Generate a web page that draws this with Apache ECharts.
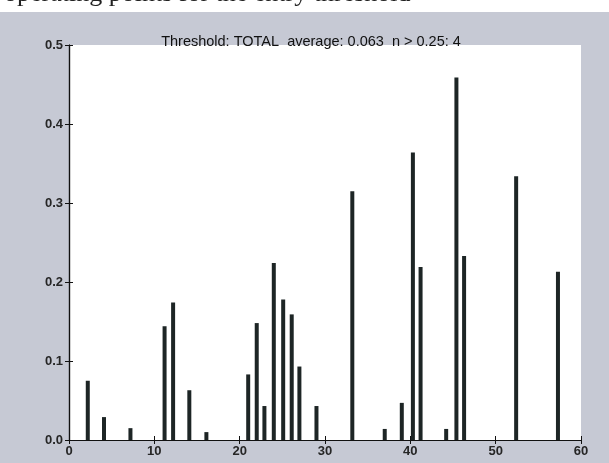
<!DOCTYPE html>
<html>
<head>
<meta charset="utf-8">
<script src="https://cdn.jsdelivr.net/npm/echarts@6/dist/echarts.min.js"></script>
<style>
  html, body { margin: 0; padding: 0; background: #c6c9d4; }
  #chart { width: 609px; height: 463px; }
</style>
</head>
<body>
<div id="chart"></div>
<script>
// bar positions (x) and heights
const positions = [2.2, 4.1, 7.2, 11.2, 12.2, 14.1, 16.1, 21, 22, 22.9, 24, 25.1, 26.1, 27, 29, 33.2, 37, 39, 40.3, 41.2, 44.2, 45.4, 46.3, 52.4, 57.3];
const values = [0.075, 0.029, 0.015, 0.144, 0.174, 0.063, 0.010, 0.083, 0.148, 0.043, 0.224, 0.178, 0.159, 0.093, 0.043, 0.315, 0.014, 0.047, 0.364, 0.219, 0.014, 0.459, 0.233, 0.334, 0.213];
const titleText = "Threshold: TOTAL  average: 0.063  n > 0.25: 4";

const chart = echarts.init(document.getElementById("chart"));

const tickFont = { fontFamily: "Liberation Sans, Arial, sans-serif", fontSize: 13, fontWeight: "bold", color: "#262626" };
const axisLine = { show: true, lineStyle: { color: "#111", width: 1.2 } };
const axisTick = { show: true, inside: true, length: 4, lineStyle: { color: "#111" } };

chart.setOption({
  backgroundColor: "#c6c9d4",
  animation: false,
  graphic: [
    { type: "rect", left: 0, top: 0, shape: { width: 609, height: 12 }, style: { fill: "#ffffff" } },
    {
      // caption line of the scanned page, cut off by the crop
      type: "text", left: 4, top: -19,
      style: { text: "operating points for the entry threshold", font: "26px 'Liberation Serif', serif", fill: "#222" }
    }
  ],
  title: {
    text: titleText,
    left: 306, top: 29, textAlign: "center",
    textStyle: { fontFamily: "Liberation Sans, Arial, sans-serif", fontSize: 14.5, fontWeight: "normal", color: "#111" }
  },
  grid: { left: 69, right: 28, top: 45, bottom: 23, backgroundColor: "#ffffff", show: true, borderWidth: 0 },
  xAxis: [
    {
      type: "value", min: 0, max: 60, interval: 10, position: "bottom",
      axisLine, axisTick, splitLine: { show: false },
      axisLabel: Object.assign({ margin: 5 }, tickFont)
    },
    {
      type: "value", min: 0, max: 60, interval: 10, position: "top",
      axisLine, axisTick, splitLine: { show: false }, axisLabel: { show: false }
    }
  ],
  yAxis: [
    {
      type: "value", min: 0, max: 0.5, interval: 0.1, position: "left",
      axisLine, axisTick, splitLine: { show: false },
      axisLabel: Object.assign({ margin: 6, formatter: v => v.toFixed(1) }, tickFont)
    },
    {
      type: "value", min: 0, max: 0.5, interval: 0.1, position: "right",
      axisLine, axisTick, splitLine: { show: false }, axisLabel: { show: false }
    }
  ],
  series: [
    {
      type: "bar",
      xAxisIndex: 0, yAxisIndex: 0,
      barWidth: 4,
      itemStyle: { color: "#1d2525" },
      data: positions.map((x, i) => [x, values[i]])
    }
  ]
});
</script>
</body>
</html>
